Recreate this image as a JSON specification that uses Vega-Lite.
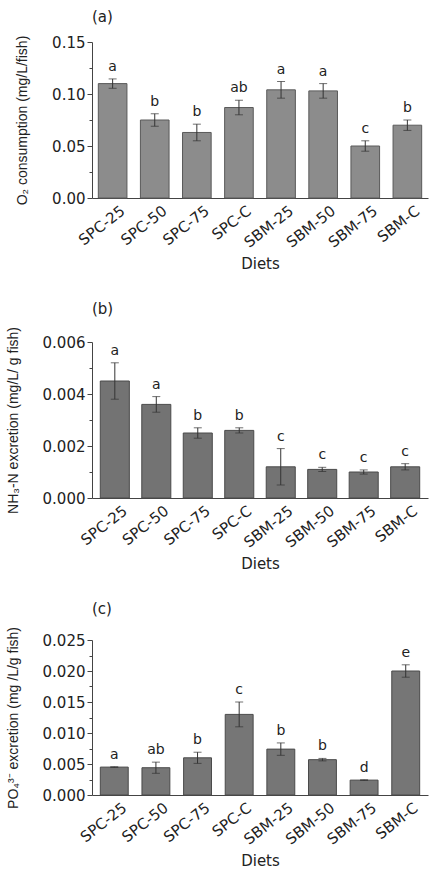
{
  "$schema": "https://vega.github.io/schema/vega-lite/v6.json",
  "background": "white",
  "padding": {"left": 6, "top": 10, "right": 2, "bottom": 0},
  "spacing": 29,
  "datasets": {
    "a": [
      {"diet": "SPC-25", "mean": 0.110, "lo": 0.1055, "hi": 0.1145, "letter": "a"},
      {"diet": "SPC-50", "mean": 0.075, "lo": 0.069, "hi": 0.081, "letter": "b"},
      {"diet": "SPC-75", "mean": 0.063, "lo": 0.055, "hi": 0.071, "letter": "b"},
      {"diet": "SPC-C", "mean": 0.087, "lo": 0.080, "hi": 0.094, "letter": "ab"},
      {"diet": "SBM-25", "mean": 0.104, "lo": 0.096, "hi": 0.112, "letter": "a"},
      {"diet": "SBM-50", "mean": 0.103, "lo": 0.096, "hi": 0.110, "letter": "a"},
      {"diet": "SBM-75", "mean": 0.050, "lo": 0.045, "hi": 0.055, "letter": "c"},
      {"diet": "SBM-C", "mean": 0.070, "lo": 0.065, "hi": 0.075, "letter": "b"}
    ],
    "b": [
      {"diet": "SPC-25", "mean": 0.0045, "lo": 0.0038, "hi": 0.0052, "letter": "a"},
      {"diet": "SPC-50", "mean": 0.0036, "lo": 0.0033, "hi": 0.0039, "letter": "a"},
      {"diet": "SPC-75", "mean": 0.0025, "lo": 0.0023, "hi": 0.0027, "letter": "b"},
      {"diet": "SPC-C", "mean": 0.0026, "lo": 0.0025, "hi": 0.0027, "letter": "b"},
      {"diet": "SBM-25", "mean": 0.0012, "lo": 0.0005, "hi": 0.0019, "letter": "c"},
      {"diet": "SBM-50", "mean": 0.0011, "lo": 0.00102, "hi": 0.00118, "letter": "c"},
      {"diet": "SBM-75", "mean": 0.0010, "lo": 0.00092, "hi": 0.00108, "letter": "c"},
      {"diet": "SBM-C", "mean": 0.0012, "lo": 0.00108, "hi": 0.00132, "letter": "c"}
    ],
    "c": [
      {"diet": "SPC-25", "mean": 0.0045, "lo": 0.00445, "hi": 0.00455, "letter": "a"},
      {"diet": "SPC-50", "mean": 0.0044, "lo": 0.0035, "hi": 0.0053, "letter": "ab"},
      {"diet": "SPC-75", "mean": 0.0060, "lo": 0.0051, "hi": 0.0069, "letter": "b"},
      {"diet": "SPC-C", "mean": 0.0130, "lo": 0.0110, "hi": 0.0150, "letter": "c"},
      {"diet": "SBM-25", "mean": 0.0074, "lo": 0.0064, "hi": 0.0084, "letter": "b"},
      {"diet": "SBM-50", "mean": 0.0057, "lo": 0.0055, "hi": 0.0059, "letter": "b"},
      {"diet": "SBM-75", "mean": 0.0024, "lo": 0.00235, "hi": 0.00245, "letter": "d"},
      {"diet": "SBM-C", "mean": 0.0200, "lo": 0.0190, "hi": 0.0210, "letter": "e"}
    ]
  },
  "vconcat": [
    {
      "width": 336, "height": 156,
      "title": {"text": "(a)", "anchor": "start", "frame": "group", "offset": 10},
      "data": {"name": "a"},
      "resolve": {"axis": {"y": "independent"}},
      "layer": [
        {
          "mark": {"type": "bar", "color": "#8c8c8c", "stroke": "#5a5a5a", "strokeWidth": 1},
          "encoding": {
            "x": {"field": "diet", "type": "nominal", "sort": null, "scale": {"paddingInner": 0.32, "paddingOuter": 0.15}, "axis": {"title": "Diets"}},
            "y": {"field": "mean", "type": "quantitative", "scale": {"domain": [0, 0.15], "nice": false}, "axis": {"orient": "left", "values": [0, 0.05, 0.1, 0.15], "format": ".2f", "title": "O₂ consumption (mg/L/fish)"}}
          }
        },
        {
          "mark": {"type": "errorbar", "color": "#333333", "ticks": {"size": 8}},
          "encoding": {
            "x": {"field": "diet", "type": "nominal", "sort": null},
            "y": {"field": "lo", "type": "quantitative", "axis": null},
            "y2": {"field": "hi"}
          }
        },
        {
          "mark": {"type": "text", "baseline": "bottom", "dy": -5, "font": "DejaVu Sans", "fontSize": 14, "color": "#222"},
          "encoding": {
            "x": {"field": "diet", "type": "nominal", "sort": null},
            "y": {"field": "hi", "type": "quantitative", "axis": null},
            "text": {"field": "letter"}
          }
        },
        {
          "mark": {"type": "point", "opacity": 0},
          "encoding": {
            "y": {"field": "mean", "type": "quantitative", "axis": {"orient": "left", "values": [0.025, 0.075, 0.125], "labels": false, "domain": false, "grid": false, "tickSize": 3, "title": null}}
          }
        }
      ]
    },
    {
      "width": 336, "height": 156,
      "title": {"text": "(b)", "anchor": "start", "frame": "group", "offset": 10},
      "data": {"name": "b"},
      "resolve": {"axis": {"y": "independent"}},
      "layer": [
        {
          "mark": {"type": "bar", "color": "#737373", "stroke": "#4a4a4a", "strokeWidth": 1},
          "encoding": {
            "x": {"field": "diet", "type": "nominal", "sort": null, "scale": {"paddingInner": 0.3, "paddingOuter": 0.2}, "axis": {"title": "Diets"}},
            "y": {"field": "mean", "type": "quantitative", "scale": {"domain": [0, 0.006], "nice": false}, "axis": {"orient": "left", "values": [0, 0.002, 0.004, 0.006], "format": ".3f", "title": "NH₃-N excretion (mg/L/ g fish)"}}
          }
        },
        {
          "mark": {"type": "errorbar", "color": "#333333", "ticks": {"size": 8}},
          "encoding": {
            "x": {"field": "diet", "type": "nominal", "sort": null},
            "y": {"field": "lo", "type": "quantitative", "axis": null},
            "y2": {"field": "hi"}
          }
        },
        {
          "mark": {"type": "text", "baseline": "bottom", "dy": -5, "font": "DejaVu Sans", "fontSize": 14, "color": "#222"},
          "encoding": {
            "x": {"field": "diet", "type": "nominal", "sort": null},
            "y": {"field": "hi", "type": "quantitative", "axis": null},
            "text": {"field": "letter"}
          }
        },
        {
          "mark": {"type": "point", "opacity": 0},
          "encoding": {
            "y": {"field": "mean", "type": "quantitative", "axis": {"orient": "left", "values": [0.001, 0.003, 0.005], "labels": false, "domain": false, "grid": false, "tickSize": 3, "title": null}}
          }
        }
      ]
    },
    {
      "width": 336, "height": 155,
      "title": {"text": "(c)", "anchor": "start", "frame": "group", "offset": 10},
      "data": {"name": "c"},
      "resolve": {"axis": {"y": "independent"}},
      "layer": [
        {
          "mark": {"type": "bar", "color": "#767676", "stroke": "#4a4a4a", "strokeWidth": 1},
          "encoding": {
            "x": {"field": "diet", "type": "nominal", "sort": null, "scale": {"paddingInner": 0.33, "paddingOuter": 0.2}, "axis": {"title": "Diets"}},
            "y": {"field": "mean", "type": "quantitative", "scale": {"domain": [0, 0.025], "nice": false}, "axis": {"orient": "left", "values": [0, 0.005, 0.01, 0.015, 0.02, 0.025], "format": ".3f", "title": "PO₄³⁻ excretion (mg /L/g fish)"}}
          }
        },
        {
          "mark": {"type": "errorbar", "color": "#333333", "ticks": {"size": 8}},
          "encoding": {
            "x": {"field": "diet", "type": "nominal", "sort": null},
            "y": {"field": "lo", "type": "quantitative", "axis": null},
            "y2": {"field": "hi"}
          }
        },
        {
          "mark": {"type": "text", "baseline": "bottom", "dy": -5, "font": "DejaVu Sans", "fontSize": 14, "color": "#222"},
          "encoding": {
            "x": {"field": "diet", "type": "nominal", "sort": null},
            "y": {"field": "hi", "type": "quantitative", "axis": null},
            "text": {"field": "letter"}
          }
        },
        {
          "mark": {"type": "point", "opacity": 0},
          "encoding": {
            "y": {"field": "mean", "type": "quantitative", "axis": {"orient": "left", "values": [0.0025, 0.0075, 0.0125, 0.0175, 0.0225], "labels": false, "domain": false, "grid": false, "tickSize": 3, "title": null}}
          }
        }
      ]
    }
  ],
  "config": {
    "view": {"stroke": null},
    "title": {"font": "DejaVu Sans", "fontSize": 15, "fontWeight": "normal", "color": "#222"},
    "axis": {
      "domainColor": "#444", "tickColor": "#444", "grid": false,
      "labelFont": "DejaVu Sans", "labelColor": "#222",
      "titleFont": "Liberation Sans", "titleFontWeight": "normal", "titleColor": "#222"
    },
    "axisY": {"labelFontSize": 15, "tickSize": 5, "labelPadding": 2, "titleFontSize": 14, "titlePadding": 22},
    "axisX": {"labelFontSize": 15, "labelAngle": -38, "ticks": false, "labelPadding": 5, "labelOffset": 6, "titleFont": "DejaVu Sans", "titleFontSize": 15, "titlePadding": 6}
  }
}
